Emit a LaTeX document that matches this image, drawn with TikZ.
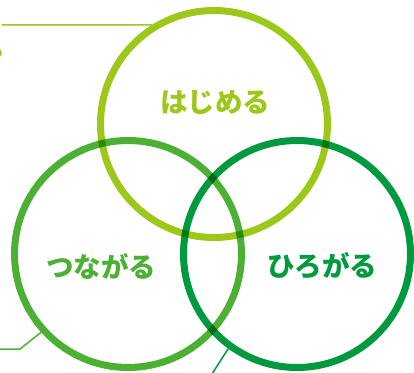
\documentclass[tikz,border=0pt]{standalone}
\usepackage{fontspec}
\newfontfamily\jpfont{Noto Sans CJK JP}
\usetikzlibrary{positioning}
\definecolor{vn-top}{HTML}{9CC81A}
\definecolor{vn-left}{HTML}{4BB033}
\definecolor{vn-right}{HTML}{009A3E}
\tikzset{ring/.style={draw,circle,line width=7pt,inner sep=0pt,minimum size=227pt}}
\tikzset{word/.style={font=\jpfont\bfseries\fontsize{27.5}{27.5}\selectfont}}

\begin{document}
\begin{tikzpicture}[x=1pt, y=-1pt]

  \useasboundingbox (0,0) rectangle (414,372);

  % Three overlapping rings
  \begin{scope}[blend group=multiply]
    \node (hajimeru) [ring, draw=vn-top]   at (214,124) {};
    \node (tsunagaru)[ring, draw=vn-left]  at (128,254) {};
    \node (hirogaru) [ring, draw=vn-right] at (297,254) {};
  \end{scope}

  % Labels
  \node[word, text=vn-top]   at (215,103) {はじめる};
  \node[word, text=vn-left]  at (101,266) {つながる};
  \node[word, text=vn-right] at (322,266) {ひろがる};

  % Leader lines out of the picture
  \coordinate (lead_top)   at (2,25);
  \coordinate (lead_left)  at (0,349);
  \coordinate (bend_left)  at (20,349);
  \coordinate (lead_right) at (212,374);
  \draw[vn-top, line width=1.5pt] (lead_top) -- (hajimeru.122.9);
  \draw[vn-top, line width=1.5pt] (-3,53) circle (4);
  \draw[vn-left, line width=1.5pt] (lead_left) -- (bend_left) -- (tsunagaru.222.6);
  \draw[vn-right, line width=1.5pt] (lead_right) -- (hirogaru.234.8);

\end{tikzpicture}
\end{document}
